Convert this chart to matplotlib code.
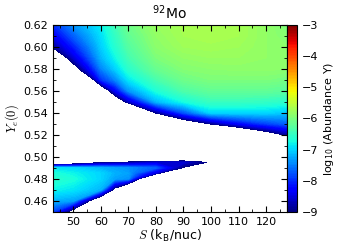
import numpy as np
import matplotlib
matplotlib.use("Agg")
import matplotlib.pyplot as plt
from matplotlib.ticker import MultipleLocator, FormatStrFormatter

plt.rcParams['font.family'] = ['DejaVu Sans']
plt.rcParams['mathtext.fontset'] = 'cm'
plt.rcParams['font.size'] = 8

# entropy grid (kB/nuc) and initial Ye grid
entropy = [42.7, 50, 60, 65, 70, 80, 90, 100, 110, 120, 127.6]
ye0 = [0.45, 0.46, 0.47, 0.48, 0.485, 0.49, 0.495, 0.50, 0.51, 0.52,
       0.53, 0.54, 0.55, 0.56, 0.57, 0.58, 0.59, 0.60, 0.61, 0.62]

# log10 abundance of 92Mo, one list per entropy column (bottom -> top in Ye)
# -12 = nothing produced (left blank)
logY_s43 = [-7.9, -7.2, -6.8, -6.6, -6.7, -6.9, -10.3, -12, -12, -12,
            -12, -12, -12, -12, -12, -12, -9.9, -8.9, -8.4, -8.0]
logY_s50 = [-9.43, -7.3, -6.9, -6.7, -6.8, -7.0, -9.86, -12, -12, -12,
            -12, -12, -12, -12, -12, -9.4, -8.6, -8.1, -7.7, -7.4]
logY_s60 = [-12, -10.2, -7.2, -7.0, -7.0, -7.2, -9.11, -12, -12, -12,
            -12, -12, -12, -10.0, -8.0, -7.5, -7.2, -7.05, -6.95, -6.85]
logY_s65 = [-12, -12, -9.3, -7.3, -7.2, -7.3, -9.02, -12, -12, -12,
            -12, -12, -9.9, -8.4, -7.5, -7.05, -6.8, -6.65, -6.55, -6.45]
logY_s70 = [-12, -12, -10.9, -7.4, -7.3, -7.4, -8.9, -10.6, -12, -12,
            -12, -12.0, -8.7, -7.4, -6.9, -6.6, -6.42, -6.3, -6.2, -6.1]
logY_s80 = [-12, -12, -12, -11.5, -8.6, -7.7, -8.6, -11.1, -12, -12,
            -12, -8.95, -7.2, -6.7, -6.4, -6.15, -6.0, -5.9, -5.85, -5.8]
logY_s90 = [-12, -12, -12, -12, -12, -9.05, -8.55, -10.3, -12, -12,
            -9.8, -7.8, -6.75, -6.35, -6.1, -5.95, -5.85, -5.75, -5.7, -5.68]
logY_s100 = [-12, -12, -12, -12, -12, -12, -9.08, -12, -12, -12,
             -8.95, -7.0, -6.5, -6.2, -6.0, -5.9, -5.8, -5.72, -5.66, -5.65]
logY_s110 = [-12, -12, -12, -12, -12, -12, -12, -12, -12, -10.6,
             -8.3, -7.0, -6.5, -6.2, -6.0, -5.88, -5.8, -5.75, -5.7, -5.7]
logY_s120 = [-12, -12, -12, -12, -12, -12, -12, -12, -12, -9.5,
             -7.9, -7.0, -6.55, -6.2, -6.0, -5.88, -5.85, -5.85, -5.85, -5.85]
logY_s128 = [-12, -12, -12, -12, -12, -12, -12, -12, -10.9, -8.9,
             -7.7, -7.1, -6.6, -6.25, -6.05, -5.9, -5.9, -5.9, -5.95, -6.0]

Z = np.column_stack([logY_s43, logY_s50, logY_s60, logY_s65, logY_s70,
                     logY_s80, logY_s90, logY_s100, logY_s110, logY_s120,
                     logY_s128])

fig = plt.figure(figsize=(3.57, 2.5), dpi=100)
ax = fig.add_axes([0.149, 0.153, 0.655, 0.747])
cax = fig.add_axes([0.805, 0.153, 0.028, 0.747])

levels = np.linspace(-9, -3, 121)
cf = ax.contourf(entropy, ye0, Z, levels=levels, cmap='jet')

ax.set_xlim(42.7, 127.6)
ax.set_ylim(0.45, 0.62)
ax.xaxis.set_major_locator(MultipleLocator(10))
ax.xaxis.set_minor_locator(MultipleLocator(5))
ax.yaxis.set_major_locator(MultipleLocator(0.02))
ax.yaxis.set_minor_locator(MultipleLocator(0.01))
ax.yaxis.set_major_formatter(FormatStrFormatter('%.2f'))
ax.tick_params(which='both', direction='in', top=True, right=True)
ax.tick_params(which='major', length=4)
ax.tick_params(which='minor', length=2)

ax.set_xlabel(r'$S$ (k$_\mathregular{B}$/nuc)', fontsize=9, labelpad=1)
ax.set_ylabel(r'$Y_e(0)$', fontsize=9, labelpad=2)
ax.set_title(r'$^\mathregular{92}$Mo', fontsize=10, pad=4)

cb = fig.colorbar(cf, cax=cax, ticks=range(-9, -2))
cb.ax.tick_params(direction='in', length=0)
cb.set_label(r'log$_\mathregular{10}$ (Abundance Y)', labelpad=2)

fig.savefig('out.png', dpi=100)
